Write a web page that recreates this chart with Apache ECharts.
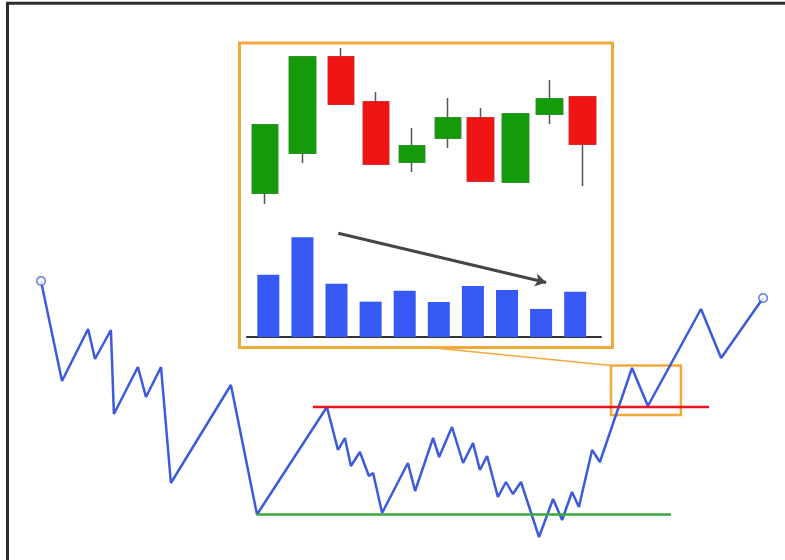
<!DOCTYPE html>
<html><head><meta charset="utf-8">
<script src="https://cdn.jsdelivr.net/npm/echarts@6/dist/echarts.min.js"></script>
<style>html,body{margin:0;padding:0;background:#fff}#c{width:785px;height:560px}</style>
</head><body><div id="c"></div>
<script>
// ---- main price path (time, price) ----
const priceX = [0, 7, 15.7, 18, 23.3, 24.3, 32.3, 35, 40, 43.3, 63.3, 72, 95.3, 99, 101.3, 103.3, 106.3, 109.3, 110.7, 113.7,
  122.3, 124.7, 130.7, 132.7, 137, 140.7, 144, 146.3, 148.7, 152.3, 155, 157.3, 160, 166, 170.7, 173.7, 177, 179.3, 183.7, 186.3,
  197, 202.3, 220, 226.7, 240.7];
const priceY = [139.5, 89.5, 115.5, 100.5, 115, 73, 96.5, 81.5, 96.5, 38.5, 87.5, 22.75, 76.5, 55, 61, 47, 54, 42, 43.5, 23.5,
  48.5, 34.5, 61, 51.5, 66.5, 48.5, 58.5, 45, 52, 31.5, 39, 33, 39, 11.5, 30.5, 20, 34, 26.5, 55, 49,
  96, 77, 125.5, 101, 131];
const supportLevel = 22.75;
const supportRange = [71.9, 210];
const resistanceLevel = 76.5;
const resistanceRange = [90.6, 222.7];
const zoomBoxX = [190, 213.3];
const zoomBoxY = [72.5, 97.2];

// ---- inset candlesticks ----
const candleX = [0, 1.07, 2.15, 3.15, 4.16, 5.19, 6.1, 7.1, 8.06, 8.99];
const candleOpen  = [13.5, 33.5, 81.5, 59, 29, 41, 51, 19, 53, 61.5];
const candleClose = [47.5, 81.5, 58, 28, 37, 51, 19.5, 53, 60.5, 38];
const candleLow   = [8, 28.5, 58, 28, 24, 36, 19.5, 19, 48, 17];
const candleHigh  = [47.5, 81.5, 86, 64, 46, 61, 56, 53, 70, 61.5];

// ---- inset volume ----
const volumeX = [0, 1, 2, 3, 4, 5, 6, 7, 8, 9];
const volume = [56.6, 90.6, 48.5, 32.1, 42.1, 31.8, 46.4, 42.7, 25.5, 41.2];
const trendFrom = [2.05, 94.3];
const trendTo = [8.15, 49.6];

const BLUE = '#3b5bdb', BAR = '#3658f5', GUP = '#159a0c', RDN = '#f01414',
      SUP = '#3aa83a', RES = '#e8141e', ORANGE = '#f2a93b', WICK = '#555';

const chart = echarts.init(document.getElementById('c'), null, {renderer: 'canvas'});

const pricePts = priceX.map((x, i) => [x, priceY[i]]);
const ends = [pricePts[0], pricePts[pricePts.length - 1]];
const wickData = candleX.map((x, i) => [x, candleOpen[i], candleClose[i], candleLow[i], candleHigh[i]]);
const bodyData = candleX.map((x, i) => [x, candleOpen[i], candleClose[i],
  Math.min(candleOpen[i], candleClose[i]), Math.max(candleOpen[i], candleClose[i])]);
const volData = volumeX.map((x, i) => [x, volume[i]]);

chart.setOption({
  animation: false,
  backgroundColor: '#fff',
  grid: [
    {left: 41, top: 280, width: 723, height: 280},
    {left: 247.3, top: 40, width: 353, height: 180},
    {left: 247, top: 227, width: 354, height: 110}
  ],
  xAxis: [
    {type: 'value', gridIndex: 0, min: 0, max: 241, show: false},
    {type: 'value', gridIndex: 1, min: -0.5, max: 9.5, show: false},
    {type: 'value', gridIndex: 2, min: -0.625, max: 9.757, show: true,
      axisLine: {show: true, onZero: false, lineStyle: {color: '#333', width: 2}},
      axisTick: {show: false}, axisLabel: {show: false}, splitLine: {show: false}}
  ],
  yAxis: [
    {type: 'value', gridIndex: 0, min: 0, max: 140, show: false},
    {type: 'value', gridIndex: 1, min: 0, max: 90, show: false},
    {type: 'value', gridIndex: 2, min: 0, max: 100, show: false}
  ],
  series: [
    {type: 'line', xAxisIndex: 0, yAxisIndex: 0, data: pricePts, symbol: 'none', clip: false, z: 3,
      lineStyle: {color: BLUE, width: 2.5}, itemStyle: {color: BLUE},
      markArea: {silent: true, z: 2,
        itemStyle: {color: 'rgba(0,0,0,0)', borderColor: ORANGE, borderWidth: 2.5},
        data: [[{coord: [zoomBoxX[0], zoomBoxY[1]]}, {coord: [zoomBoxX[1], zoomBoxY[0]]}]]}},
    {type: 'line', xAxisIndex: 0, yAxisIndex: 0, symbol: 'none', z: 4,
      data: [[resistanceRange[0], resistanceLevel], [resistanceRange[1], resistanceLevel]],
      lineStyle: {color: RES, width: 2.5}},
    {type: 'line', xAxisIndex: 0, yAxisIndex: 0, symbol: 'none', z: 4,
      data: [[supportRange[0], supportLevel], [supportRange[1], supportLevel]],
      lineStyle: {color: SUP, width: 2.5}},
    {type: 'scatter', xAxisIndex: 0, yAxisIndex: 0, data: ends, symbol: 'circle', symbolSize: 8.5, z: 6,
      itemStyle: {color: '#fff', borderColor: BLUE, borderWidth: 1.5}},
    {type: 'candlestick', xAxisIndex: 1, yAxisIndex: 1, data: wickData, barWidth: 26, z: 2,
      encode: {x: 0, y: [1, 2, 3, 4]},
      itemStyle: {color: WICK, color0: WICK, borderColor: WICK, borderColor0: WICK, borderWidth: 1.5}},
    {type: 'candlestick', xAxisIndex: 1, yAxisIndex: 1, data: bodyData, barWidth: 26, z: 3,
      encode: {x: 0, y: [1, 2, 3, 4]},
      itemStyle: {color: GUP, color0: RDN, borderColor: GUP, borderColor0: RDN, borderWidth: 1.5}},
    {type: 'bar', xAxisIndex: 2, yAxisIndex: 2, data: volData, barWidth: 22, z: 2,
      itemStyle: {color: BAR},
      markLine: {silent: true, symbol: ['none', 'arrow'], symbolSize: [10, 11],
        lineStyle: {color: '#454545', width: 3, type: 'solid'}, label: {show: false},
        data: [[{coord: trendFrom}, {coord: trendTo}]]}}
  ]
});

const corner = chart.convertToPixel({gridIndex: 0}, [zoomBoxX[0], zoomBoxY[1]]);
chart.setOption({
  graphic: [
    {type: 'rect', silent: true, z: 100, shape: {x: 7.5, y: 3.3, width: 900, height: 700},
      style: {fill: null, stroke: '#2d2d2d', lineWidth: 3}},
    {type: 'rect', silent: true, z: 100, shape: {x: 239.5, y: 43, width: 373, height: 304.5},
      style: {fill: null, stroke: ORANGE, lineWidth: 3}},
    {type: 'line', silent: true, z: 100, shape: {x1: 435, y1: 348, x2: corner[0], y2: corner[1]},
      style: {stroke: ORANGE, lineWidth: 1.5}}
  ]
});
</script>
</body></html>
